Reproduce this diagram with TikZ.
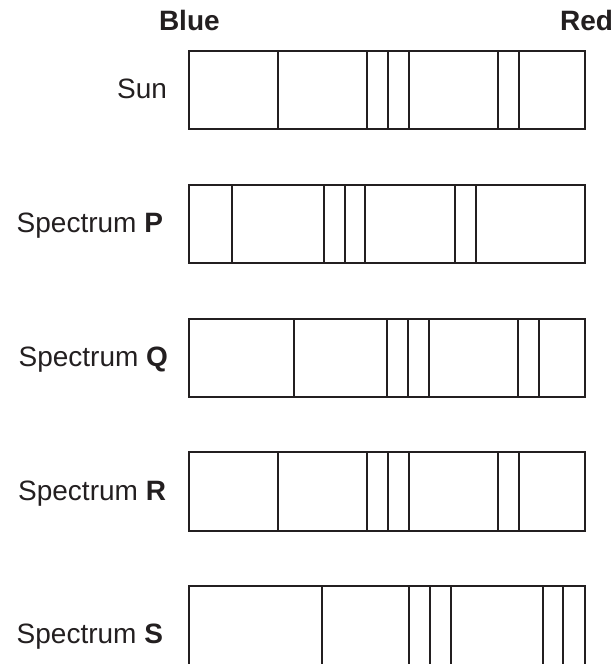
\documentclass[tikz,border=0pt]{standalone}
\usepackage{fontspec}
\setmainfont{Liberation Sans}
\definecolor{ink}{HTML}{231F20}
\begin{document}
\begin{tikzpicture}[x=1pt,y=-1pt,
  lbl/.style={inner sep=0pt,outer sep=0pt,text=ink,font=\fontsize{28}{33}\selectfont},
  specbox/.style={draw=ink,line width=1.7pt},
  specline/.style={draw=ink,line width=1.7pt}]
\useasboundingbox (0,0) rectangle (615,664);
\clip (0,0) rectangle (615,664);
% headers
\node[lbl,anchor=base west] (blue) at (159,30) {\bfseries Blue};
\node[lbl,anchor=base east] (red) at (613,30) {\bfseries Red};
% labels
\node[lbl,anchor=base east] (lsun) at (167,98) {Sun};
\node[lbl,anchor=base east] (lp) at (163,232) {Spectrum \textbf{P}};
\node[lbl,anchor=base east] (lq) at (168,366) {Spectrum \textbf{Q}};
\node[lbl,anchor=base east] (lr) at (166,500) {Spectrum \textbf{R}};
\node[lbl,anchor=base east] (ls) at (163,643) {Spectrum \textbf{S}};
% Sun
\draw[specbox] (189,51) rectangle (585,129);
\foreach \x in {278,367,388,409,498,519} \draw[specline] (\x,51) -- (\x,129);
% P
\draw[specbox] (189,185) rectangle (585,263);
\foreach \x in {232,324,345,365,455,476} \draw[specline] (\x,185) -- (\x,263);
% Q
\draw[specbox] (189,319) rectangle (585,397);
\foreach \x in {294,387,408,429,518,539} \draw[specline] (\x,319) -- (\x,397);
% R
\draw[specbox] (189,452) rectangle (585,531);
\foreach \x in {278,367,388,409,498,519} \draw[specline] (\x,452) -- (\x,531);
% S (cut off at bottom)
\draw[specbox] (189,670) -- (189,586) -- (585,586) -- (585,670);
\foreach \x in {322,409,430,451,543,563} \draw[specline] (\x,586) -- (\x,670);
\end{tikzpicture}
\end{document}
